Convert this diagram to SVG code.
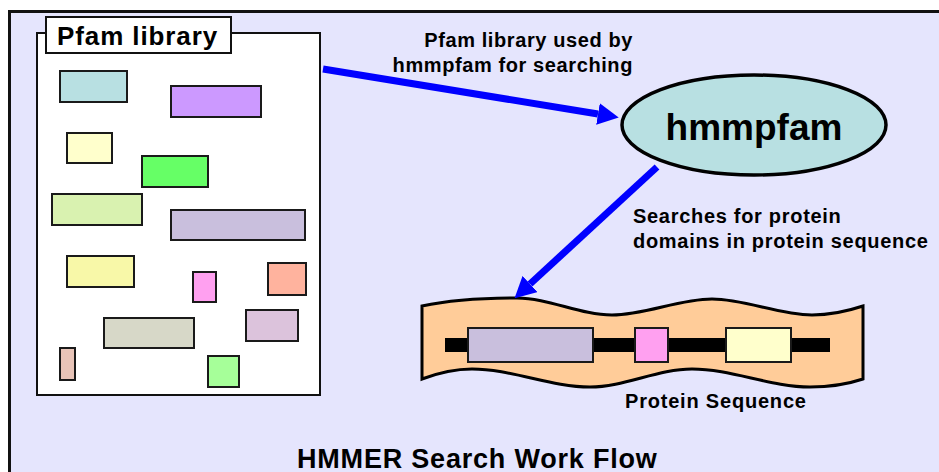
<svg xmlns="http://www.w3.org/2000/svg" width="939" height="472" viewBox="0 0 939 472">
<style>
text{font-family:"Liberation Sans",Arial,sans-serif;font-weight:bold;fill:#000}
.dom{stroke:#1a1a1a;stroke-width:2}
.conn{stroke:#0000FF;stroke-width:7;fill:none}
</style>
<defs>
<marker id="ah" markerUnits="userSpaceOnUse" markerWidth="21" markerHeight="22" viewBox="0 0 21 22" refX="0" refY="11" orient="auto">
<path d="M0,0 L21,11 L0,22 z" fill="#0000FF"/>
</marker>
</defs>
<rect x="0" y="0" width="939" height="472" fill="#ffffff"/>
<rect id="frame" x="9.5" y="11.5" width="940" height="470" fill="#E5E5FD" stroke="#111" stroke-width="3"/>

<g id="pfam-library">
<rect x="37" y="33" width="283" height="362" fill="#ffffff" stroke="#111" stroke-width="2"/>
<rect x="46" y="17" width="185" height="36" fill="#ffffff" stroke="#111" stroke-width="2"/>
<text x="57" y="45" font-size="26" letter-spacing="0.9">Pfam library</text>
<rect class="dom" x="60" y="71" width="67" height="31" fill="#B8E0E2"/>
<rect class="dom" x="171" y="86" width="90" height="31" fill="#CC99FF"/>
<rect class="dom" x="67" y="133" width="45" height="30" fill="#FFFFCC"/>
<rect class="dom" x="142" y="156" width="66" height="31" fill="#66FF66"/>
<rect class="dom" x="52" y="194" width="90" height="31" fill="#D9F2B0"/>
<rect class="dom" x="171" y="210" width="134" height="30" fill="#C9BFDD"/>
<rect class="dom" x="67" y="256" width="67" height="31" fill="#F8F8A8"/>
<rect class="dom" x="193" y="272" width="23" height="30" fill="#FFA0F0"/>
<rect class="dom" x="268" y="263" width="38" height="32" fill="#FFB39E"/>
<rect class="dom" x="246" y="310" width="52" height="31" fill="#DCC3DC"/>
<rect class="dom" x="104" y="318" width="90" height="30" fill="#D7D8C8"/>
<rect class="dom" x="60" y="348" width="15" height="32" fill="#E8C4B8"/>
<rect class="dom" x="208" y="356" width="31" height="31" fill="#A6FF99"/>
</g>

<g id="hmmpfam">
<ellipse cx="754" cy="125" rx="132" ry="50" fill="#B8E0E2" stroke="#000" stroke-width="3.5"/>
<text x="754" y="140" font-size="37" text-anchor="middle">hmmpfam</text>
</g>

<g id="protein-sequence">
<path d="M422,306 C450,300 485,298 517,298 C549,298 580,315 612,315 C645,315 679,299 712,299 C745,299 779,315 812,315 C830,315 848,311 863,306 L863,379 C848,384 828,387 810,387 C771,387 731,369 692,369 C658,369 624,387 590,387 C551,387 511,369 472,369 C455,369 438,373 422,379 Z" fill="#FFCC99" stroke="#000" stroke-width="3"/>
<rect x="445" y="338" width="385" height="14" fill="#000"/>
<rect class="dom" x="468" y="328" width="125" height="34" fill="#C9BFDD"/>
<rect class="dom" x="635" y="328" width="33" height="34" fill="#FFA0F0"/>
<rect class="dom" x="726" y="328" width="65" height="34" fill="#FFFFCC"/>
<text x="625" y="408" font-size="20" letter-spacing="0.8">Protein Sequence</text>
</g>

<g id="connectors">
<line class="conn" x1="323" y1="69" x2="598" y2="114" marker-end="url(#ah)"/>
<line class="conn" x1="657" y1="167" x2="530" y2="284" marker-end="url(#ah)"/>
<text x="633" y="47" font-size="20" letter-spacing="0.6" text-anchor="end">Pfam library used by</text>
<text x="633" y="72" font-size="20" letter-spacing="0.6" text-anchor="end">hmmpfam for searching</text>
<text x="633" y="223" font-size="20" letter-spacing="0.7">Searches for protein</text>
<text x="633" y="248" font-size="20" letter-spacing="0.7">domains in protein sequence</text>
</g>

<g id="title">
<text x="297" y="468" font-size="27" letter-spacing="0.8">HMMER Search Work Flow</text>
</g>
</svg>
